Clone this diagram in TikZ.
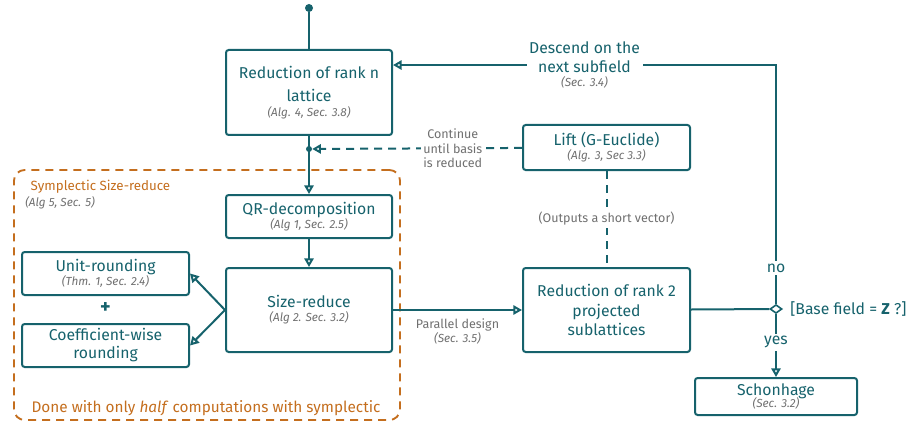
\documentclass[tikz,border=0pt]{standalone}
\usepackage{fontspec}
\setmainfont{Fira Sans}
\usetikzlibrary{positioning}
\usetikzlibrary{arrows.meta, shapes.geometric, calc}

\definecolor{tealc}{RGB}{22,98,108}
\definecolor{notegray}{RGB}{112,112,112}
\definecolor{orangec}{RGB}{196,110,30}
\newcommand{\refnote}[1]{{\fontsize{8.8}{10}\selectfont\itshape\color{notegray}#1}}

\begin{document}
\begin{tikzpicture}[x=0.75pt, y=-0.75pt, >={Triangle[open,length=6.5pt,width=7pt]}, font=\fontsize{11.8}{14.5}\selectfont]%

            \tikzstyle{blk} = [ draw = tealc, line width = 1.5pt, rounded corners = 2pt, align = center, inner sep = 1pt, text = tealc]
            \tikzstyle{post} = [ ->, draw = tealc, line width = 1.5pt]
            \tikzstyle{dsh} = [ draw = tealc, line width = 1.5pt, dash pattern = on 6pt off 4.5pt]
            \tikzstyle{lbl} = [ fill = white, align = center, text = notegray, inner sep = 2pt, font = \fontsize{9.4}{11}\selectfont]
            \tikzstyle{dot} = [ circle, fill = tealc, inner sep = 0pt]
            \tikzstyle{frm} = [ draw = orangec, line width = 1.4pt, dash pattern = on 6pt off 4.5pt, rounded corners = 8pt]

            \useasboundingbox (0,0) rectangle (909,424);

            %% Symplectic frame
            \node [frm, minimum width = 289.5pt, minimum height = 187.5pt] (sympl) at (207,295) {};
            \node [text = orangec, anchor = west, font = \fontsize{10}{12}\selectfont] (sympl_t) at (26,187) {Symplectic Size-reduce};
            \node [anchor = west, inner sep = 0pt] (sympl_r) at (25,203) {\refnote{(Alg 5, Sec. 5)}};
            \node [text = orangec, font = \fontsize{11.5}{13}\selectfont] (sympl_b) at (206,408) {Done with only \textit{half} computations with symplectic};

            %% Main chain
            \node [dot, minimum size = 6pt] (start) at (309,8) {};
            \node [blk, minimum width = 124.5pt, minimum height = 63.75pt] (red_n) at (309,92.5) {Reduction of rank n\\[3pt]lattice\\[-3pt]\refnote{(Alg. 4, Sec. 3.8)}};
            \node [dot, minimum size = 4.5pt] (junc) at (309,149) {};
            \node [blk, minimum width = 124.5pt, minimum height = 32.25pt] (qr) at (309,216.5) {QR-decomposition\\[-4pt]\refnote{(Alg 1, Sec. 2.5)}};
            \node [blk, minimum width = 124.5pt, minimum height = 63pt] (size_red) at (309,310) {Size-reduce\\[-4pt]\refnote{(Alg 2. Sec. 3.2)}};

            \draw [draw = tealc, line width = 1.5pt] (start) -- (red_n);
            \draw [post] (red_n) -- (qr);
            \draw [post] (qr) -- (size_red);

            %% Rounding
            \node [blk, minimum width = 125.25pt, minimum height = 32.25pt] (unit) at (105.5,273.5) {Unit-rounding\\[-4pt]\refnote{(Thm. 1, Sec. 2.4)}};
            \node [text = tealc, font = \fontsize{15}{16}\selectfont\bfseries] (plus) at (105.5,308) {+};
            \node [blk, minimum width = 125.25pt, minimum height = 32.25pt] (coef) at (105.5,345.5) {Coefficient-wise\\[-1pt]rounding};

            \draw [post] (size_red.west) -- (unit.east);
            \draw [post] (size_red.west) -- (coef.east);

            %% Lift and rank 2
            \node [blk, minimum width = 125.25pt, minimum height = 33.75pt] (lift) at (606.5,147.5) {Lift (G-Euclide)\\[-4pt]\refnote{(Alg. 3, Sec 3.3)}};
            \node [blk, minimum width = 125.25pt, minimum height = 63pt] (red_2) at (606.5,310) {Reduction of rank 2\\projected\\sublattices};

            \draw [post] (size_red) -- node [lbl, below = 4pt] (par_l) {Parallel design\\[-1pt]\refnote{(Sec. 3.5)}} (red_2);
            \draw [dsh, ->] (lift) -- node [lbl, pos = 0.33] (cont_l) {Continue\\until basis\\is reduced} (junc);
            \draw [dsh] (lift) -- node [lbl] (out_l) {(Outputs a short vector)} (red_2);

            %% Decision
            \node [diamond, draw = tealc, fill = white, line width = 1.2pt, minimum width = 9pt, minimum height = 6.5pt, inner sep = 0pt] (dec) at (776,309) {};
            \node [anchor = west, text = tealc, inner sep = 1pt] (dec_l) at ($(dec.east)+(6,0)$) {[Base field = \textbf{Z} ?]};
            \node [blk, minimum width = 121.5pt, minimum height = 27.75pt] (schon) at (776,396.5) {Schonhage\\[-5pt]\refnote{(Sec. 3.2)}};
            \coordinate (loop_in) at ([yshift=20.6pt]red_n.east);

            \draw [draw = tealc, line width = 1.5pt] (red_2) -- (dec);
            \draw [post] (dec) -- node [fill = white, text = tealc, inner sep = 2pt, pos = 0.45] (yes_l) {yes} (schon);
            \draw [post] (dec) -- node [fill = white, text = tealc, inner sep = 2pt, pos = 0.15] (no_l) {no} (dec |- loop_in) -- node [fill = white, text = tealc, align = center, inner sep = 2pt] (desc_l) {Descend on the\\next subfield\\[-4pt]\refnote{(Sec. 3.4)}} (loop_in);

        \end{tikzpicture}
\end{document}
